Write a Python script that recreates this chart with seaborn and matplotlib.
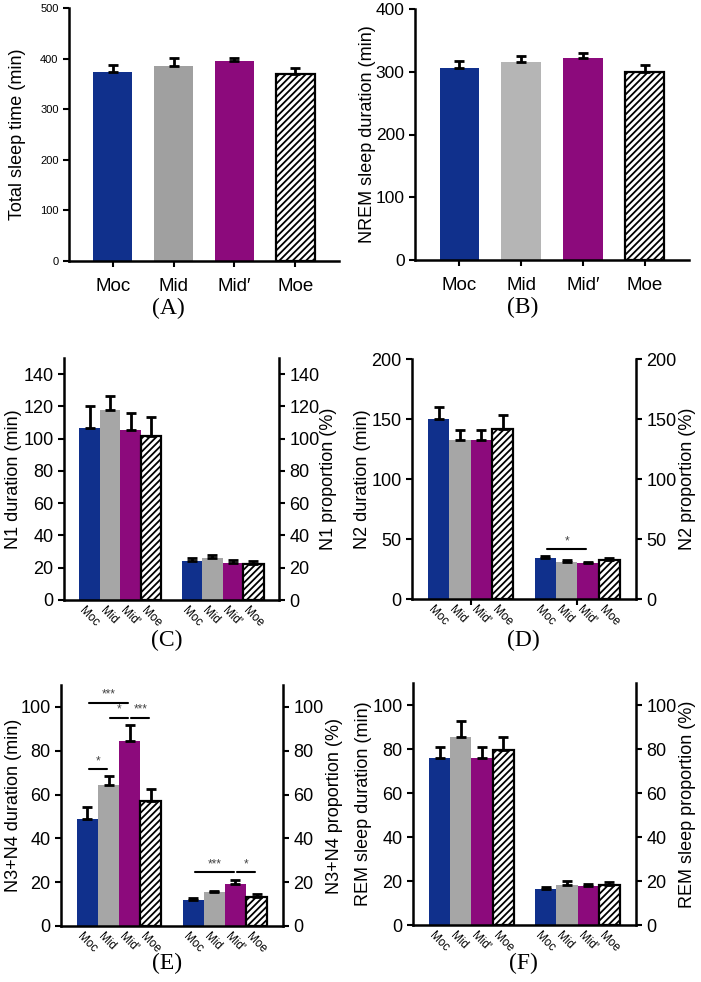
import numpy as np
import pandas as pd
import matplotlib
matplotlib.use("Agg")
import matplotlib.pyplot as plt
import seaborn as sns

sns.set_style("white")
plt.rcParams["font.family"] = ["Liberation Sans", "DejaVu Sans"]
plt.rcParams["hatch.color"] = "black"
plt.rcParams["hatch.linewidth"] = 1.3
for key in ["text.color", "axes.labelcolor", "xtick.color", "ytick.color"]:
    plt.rcParams[key] = "black"

# ---------------- data ----------------
CONDS = ["Moc", "Mid", "Mid'", "Moe"]
CONDS_AB = ["Moc", "Mid", "Mid\u2032", "Moe"]
GROUPS = ["duration", "proportion"]

tst_mean = [374, 386, 395, 369]
tst_sem = [13, 15, 6, 12]
nrem_mean = [306, 315, 322, 300]
nrem_sem = [11, 10.5, 8, 11]

n1_mean = [106.8, 117.6, 105.6, 101.6, 24.1, 26.1, 23.2, 22.4]
n1_sem = [13.5, 9, 10.6, 12, 2, 1.7, 1.7, 1.9]
n2_mean = [149.7, 132.5, 132.2, 141.7, 34.2, 30.8, 29.7, 32.2]
n2_sem = [10, 8.5, 8.8, 11.3, 1.6, 1.5, 1.5, 2.2]
n34_mean = [48.9, 64.4, 84.6, 57.0, 11.9, 15.3, 19.1, 13.4]
n34_sem = [5.2, 4.1, 7.3, 5.5, 0.8, 0.9, 1.8, 1.0]
rem_mean = [75.7, 85.3, 75.7, 79.6, 16.4, 18.3, 17.9, 18.4]
rem_sem = [5.1, 7.5, 5.0, 5.7, 0.8, 1.8, 0.8, 1.1]

# significance: (group index, cond a, cond b, line height, stars)
n2_sig = [(1, "Moc", "Mid'", 41.7, "*")]
n34_sig = [
    (0, "Moc", "Mid", 71.7, "*"),
    (0, "Moc", "Mid'", 102, "***"),
    (0, "Mid", "Mid'", 95, "*"),
    (0, "Mid'", "Moe", 95, "***"),
    (1, "Moc", "Mid'", 24.7, "***"),
    (1, "Mid'", "Moe", 24.7, "*"),
]

BLUE = "#10308C"
PURPLE = "#8C0A7C"
W, H = 701, 982


def add_axes(fig, left, right, top, bottom):
    return fig.add_axes([left / W, 1 - bottom / H, (right - left) / W, (bottom - top) / H])


def style_hatch(p):
    p.set_facecolor("white")
    p.set_edgecolor("black")
    p.set_linewidth(1.6)
    p.set_hatch("/////")


def draw_errors(ax, patches, sems):
    for p, e in zip(patches, sems):
        xc = p.get_x() + p.get_width() / 2
        h = p.get_height()
        ax.errorbar(xc, h, yerr=[[0], [e]], fmt="none", ecolor="black",
                    elinewidth=2, capsize=3.5, capthick=2, zorder=5)


def simple_panel(ax, means, sems, gray, ylim, ystep, ylabel, lab_x, ticksize):
    sns.barplot(x=CONDS_AB, y=means, hue=CONDS_AB, palette=[BLUE, gray, PURPLE, "white"],
                width=0.64, legend=False, errorbar=None, ax=ax, saturation=1, linewidth=0)
    style_hatch(ax.patches[3])
    draw_errors(ax, ax.patches, sems)
    ax.set_xlim(-0.72, 3.72)
    ax.set_ylim(*ylim)
    ax.set_yticks(np.arange(ylim[0], ylim[1] + 1, ystep))
    ax.tick_params(axis="y", labelsize=ticksize, length=4, width=1.5, direction="out", left=True)
    ax.set_xticks(range(4), CONDS_AB, fontsize=13.5)
    ax.tick_params(axis="x", length=4, width=1.5, direction="out", bottom=True, pad=8)
    for s in ["top", "right"]:
        ax.spines[s].set_visible(False)
    for s in ["left", "bottom"]:
        ax.spines[s].set_linewidth(1.8)
        ax.spines[s].set_color("black")
    ax.set_xlabel("")
    ax.set_ylabel(ylabel, fontsize=13)
    ax.yaxis.set_label_coords(lab_x, 0.5)
    ax.yaxis.label.set_va("center")


def twin_panel(ax, means, sems, ylim, ticks, ylabel, rlabel, lab_x, rlab_x, sigs=(), group_ticks=False):
    df = pd.DataFrame({"group": np.repeat(GROUPS, 4), "cond": CONDS * 2, "val": means})
    sns.barplot(data=df, x="group", y="val", hue="cond", hue_order=CONDS,
                palette=[BLUE, "#A6A6A6", PURPLE, "white"], width=0.8,
                legend=False, errorbar=None, ax=ax, saturation=1, linewidth=0)
    bars = sorted(ax.patches, key=lambda p: p.get_x())
    for p in bars[3::4]:
        style_hatch(p)
    draw_errors(ax, bars, sems)
    centers = [p.get_x() + p.get_width() / 2 for p in bars]

    ax.set_xlim(-0.55, 1.55)
    ax.set_ylim(*ylim)
    ax.set_yticks(ticks)
    ax.tick_params(axis="y", labelsize=13, length=4, width=1.5, direction="out", left=True)
    ax.set_xticks([0, 1], ["", ""])
    ax.tick_params(axis="x", which="major", length=4 if group_ticks else 0, width=1.5,
                   direction="out", bottom=True)
    ax.set_xticks([c - 0.04 for c in centers], CONDS * 2, minor=True)
    ax.tick_params(axis="x", which="minor", length=0, labelsize=8.5, pad=3)
    for lbl in ax.get_xticklabels(minor=True):
        lbl.set_rotation(-45)
        lbl.set_ha("left")
        lbl.set_va("top")
        lbl.set_rotation_mode("anchor")
    for s in ["top", "right"]:
        ax.spines[s].set_visible(False)
    for s in ["left", "bottom"]:
        ax.spines[s].set_linewidth(1.8)
        ax.spines[s].set_color("black")
    ax.set_xlabel("")
    ax.set_ylabel(ylabel, fontsize=13)
    ax.yaxis.set_label_coords(lab_x, 0.5)
    ax.yaxis.label.set_va("center")

    ax2 = ax.twinx()
    ax2.set_ylim(*ylim)
    ax2.set_yticks(ticks)
    ax2.tick_params(axis="y", labelsize=13, length=4, width=1.5, direction="out", right=True)
    for s in ["top", "left", "bottom"]:
        ax2.spines[s].set_visible(False)
    ax2.spines["right"].set_linewidth(1.8)
    ax2.spines["right"].set_color("black")
    ax2.set_ylabel(rlabel, fontsize=13)
    ax2.yaxis.set_label_coords(rlab_x, 0.5)
    ax2.yaxis.label.set_va("center")

    for g, a, b, y, stars in sigs:
        xa = centers[g * 4 + CONDS.index(a)] + 0.015
        xb = centers[g * 4 + CONDS.index(b)] - 0.015
        ax.plot([xa, xb], [y, y], color="black", lw=1.5, zorder=6)
        ax.text((xa + xb) / 2, y + ylim[1] * 0.008, stars, ha="center", va="bottom",
                fontsize=8.5, color="#444444")


fig = plt.figure(figsize=(W / 100, H / 100), dpi=100)

axA = add_axes(fig, 69, 339, 8, 261)
simple_panel(axA, tst_mean, tst_sem, "#A0A0A0", (0, 500), 100,
             "Total sleep time (min)", -0.19, 8)
axB = add_axes(fig, 415, 689, 9, 260)
simple_panel(axB, nrem_mean, nrem_sem, "#B5B5B5", (0, 400), 100,
             "NREM sleep duration (min)", -0.175, 12.5)

axC = add_axes(fig, 64, 279, 358, 600)
twin_panel(axC, n1_mean, n1_sem, (0, 150), np.arange(0, 141, 20),
           "N1 duration (min)", "N1 proportion (%)", -0.237, 1.228)
axD = add_axes(fig, 412, 636, 359, 599)
twin_panel(axD, n2_mean, n2_sem, (0, 200), np.arange(0, 201, 50),
           "N2 duration (min)", "N2 proportion (%)", -0.219, 1.232,
           sigs=n2_sig, group_ticks=True)
axE = add_axes(fig, 61, 283, 685, 926)
twin_panel(axE, n34_mean, n34_sem, (0, 110), np.arange(0, 101, 20),
           "N3+N4 duration (min)", "N3+N4 proportion (%)", -0.216, 1.234,
           sigs=n34_sig)
axF = add_axes(fig, 413, 636, 683, 925)
twin_panel(axF, rem_mean, rem_sem, (0, 110), np.arange(0, 101, 20),
           "REM sleep duration (min)", "REM sleep proportion (%)", -0.224, 1.233)

for txt, x, y in [("(A)", 168, 308), ("(B)", 523, 307), ("(C)", 167, 640),
                  ("(D)", 523, 640), ("(E)", 167, 963), ("(F)", 523, 963)]:
    fig.text(x / W, 1 - y / H, txt, ha="center", va="center",
             family="Liberation Serif", fontsize=17)

fig.savefig("out.png", dpi=100)
